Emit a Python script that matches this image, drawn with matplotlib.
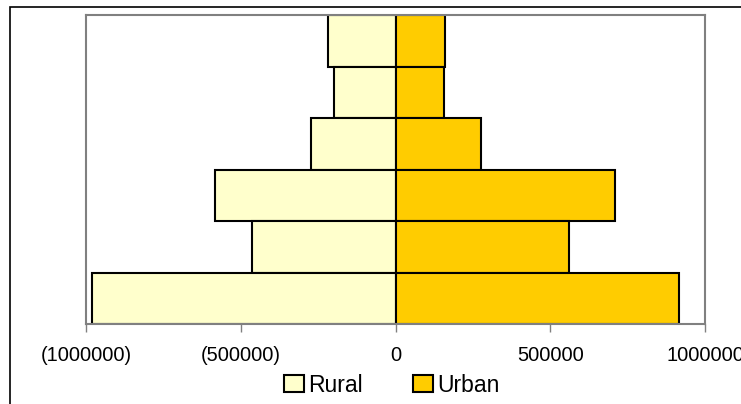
import matplotlib.pyplot as plt
from matplotlib.ticker import FuncFormatter
from matplotlib.patches import Rectangle

plt.rcParams['font.family'] = ['Liberation Sans', 'DejaVu Sans']

# rows listed top to bottom
groups = ['G1', 'G2', 'G3', 'G4', 'G5', 'G6']
rural = [219000, 200000, 274000, 584000, 465000, 981000]
urban = [161000, 158000, 277000, 710000, 561000, 916000]
xticks = [-1000000, -500000, 0, 500000, 1000000]

fig = plt.figure(figsize=(7.41, 4.04), dpi=100)
ax = fig.add_axes([86/741, 1-324/404, 619/741, 309/404])

# outer chart border (partly cut off like the reference)
fig.patches.append(Rectangle((10/741, -0.1), 1.2, 1 - 7/404 + 0.1, transform=fig.transFigure,
                             fill=False, edgecolor='black', linewidth=1.2))

ypos = list(range(len(groups)))[::-1]
ax.barh(ypos, [-v for v in rural], height=1.0, color='#FFFFCC', edgecolor='black',
        linewidth=1.5, label='Rural')
ax.barh(ypos, urban, height=1.0, color='#FFCC00', edgecolor='black',
        linewidth=1.5, label='Urban')

ax.set_xlim(-1000000, 1000000)
ax.set_ylim(-0.5, len(groups) - 0.5)
ax.set_xticks(xticks)
ax.xaxis.set_major_formatter(FuncFormatter(lambda v, p: f'({abs(int(v))})' if v < 0 else f'{int(v)}'))
ax.tick_params(axis='x', direction='out', length=6, width=1, color='#808080',
               labelsize=14.5, pad=10)
ax.set_yticks([])

for s in ['left', 'top', 'right', 'bottom']:
    ax.spines[s].set_color('#808080')
    ax.spines[s].set_linewidth(1.5)

fig.legend(loc='center', bbox_to_anchor=(392/741, 1-385/404), ncol=2, frameon=False,
           fontsize=16.5, handlelength=0.87, handleheight=0.74, handletextpad=0.17,
           columnspacing=2.2, borderpad=0)

fig.savefig('out.png', dpi=100)
